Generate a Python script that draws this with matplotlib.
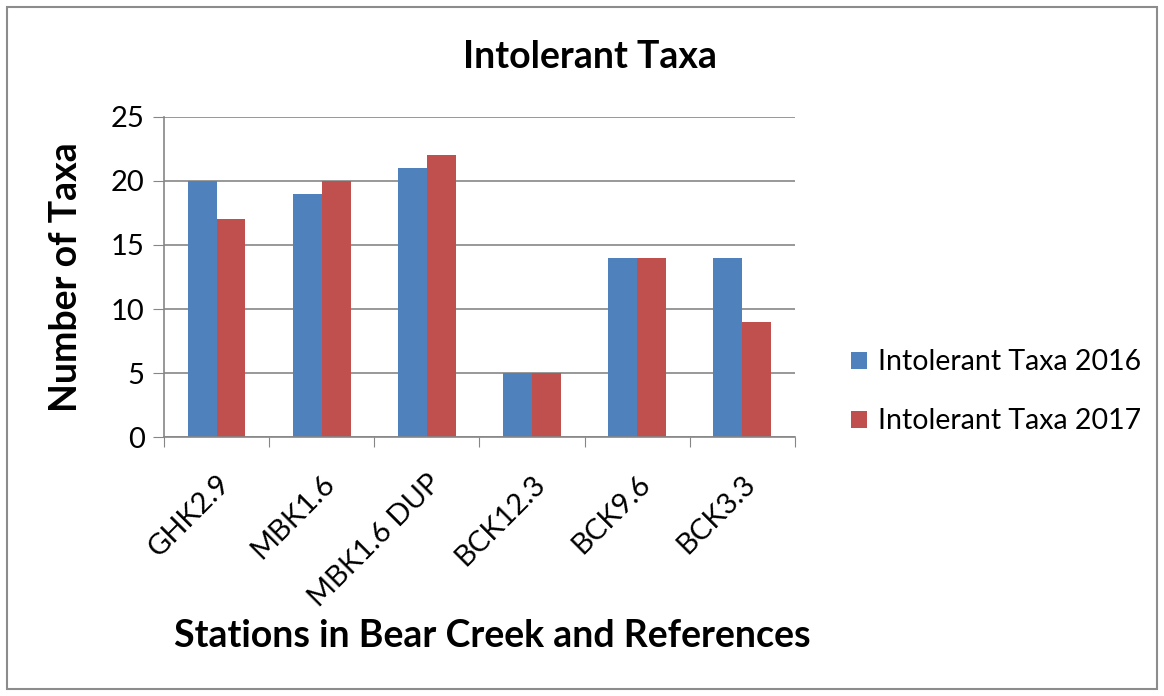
import numpy as np
import matplotlib.pyplot as plt
from matplotlib.patches import Rectangle

stations = ['GHK2.9', 'MBK1.6', 'MBK1.6 DUP', 'BCK12.3', 'BCK9.6', 'BCK3.3']
taxa_2016 = [20, 19, 21, 5, 14, 14]
taxa_2017 = [17, 20, 22, 5, 14, 9]
series_names = ['Intolerant Taxa 2016', 'Intolerant Taxa 2017']
y_ticks = [0, 5, 10, 15, 20, 25]

plt.rcParams['font.family'] = ['Lato', 'DejaVu Sans']

fig = plt.figure(figsize=(11.64, 6.96), dpi=100)
ax = fig.add_axes([0.1409, 0.372, 0.542, 0.46])

x = np.arange(len(stations))
w = 0.275
ax.bar(x - w / 2, taxa_2016, w, color='#4F81BD', label=series_names[0])
ax.bar(x + w / 2, taxa_2017, w, color='#C0504D', label=series_names[1])

ax.set_xlim(-0.5, len(stations) - 0.5)
ax.set_ylim(0, 25)
ax.set_yticks(y_ticks)
ax.tick_params(axis='y', labelsize=21, length=8, color='#868686', pad=6)
ax.yaxis.grid(True, color='#868686', linewidth=1.2)
ax.set_axisbelow(True)

# ticks between categories, labels at centers
ax.set_xticks(np.arange(len(stations) + 1) - 0.5)
ax.set_xticklabels([])
ax.tick_params(axis='x', length=7, color='#868686', direction='out')
ax.set_xticks(x, minor=True)
ax.set_xticklabels(stations, minor=True, rotation=45, ha='right', va='top',
                   rotation_mode='anchor', fontsize=21)
ax.tick_params(axis='x', which='minor', length=0, pad=24)

for s in ['top', 'right']:
    ax.spines[s].set_visible(False)
for s in ['left', 'bottom']:
    ax.spines[s].set_color('#868686')
    ax.spines[s].set_linewidth(1.2)

fig.text(66 / 1164, 1 - 277 / 696, 'Number of Taxa', fontsize=27,
         fontweight='bold', rotation=90, ha='center', va='center')
fig.text(0.507, 0.918, 'Intolerant Taxa', fontsize=27, fontweight='bold',
         ha='center', va='center')
fig.text(0.423, 0.086, 'Stations in Bear Creek and References', fontsize=27,
         fontweight='bold', ha='center', va='center')

fig.legend(loc='center left', bbox_to_anchor=(0.709, 0.437), frameon=False,
           fontsize=20.5, handlelength=0.55, handleheight=0.55,
           handletextpad=0.4, labelspacing=1.15)

fig.patches.append(Rectangle((7 / 1164, 7 / 696), 1150 / 1164, 682 / 696,
                             transform=fig.transFigure, fill=False,
                             edgecolor='#8c8c8c', linewidth=1.5))

fig.savefig('out.png', dpi=100)
